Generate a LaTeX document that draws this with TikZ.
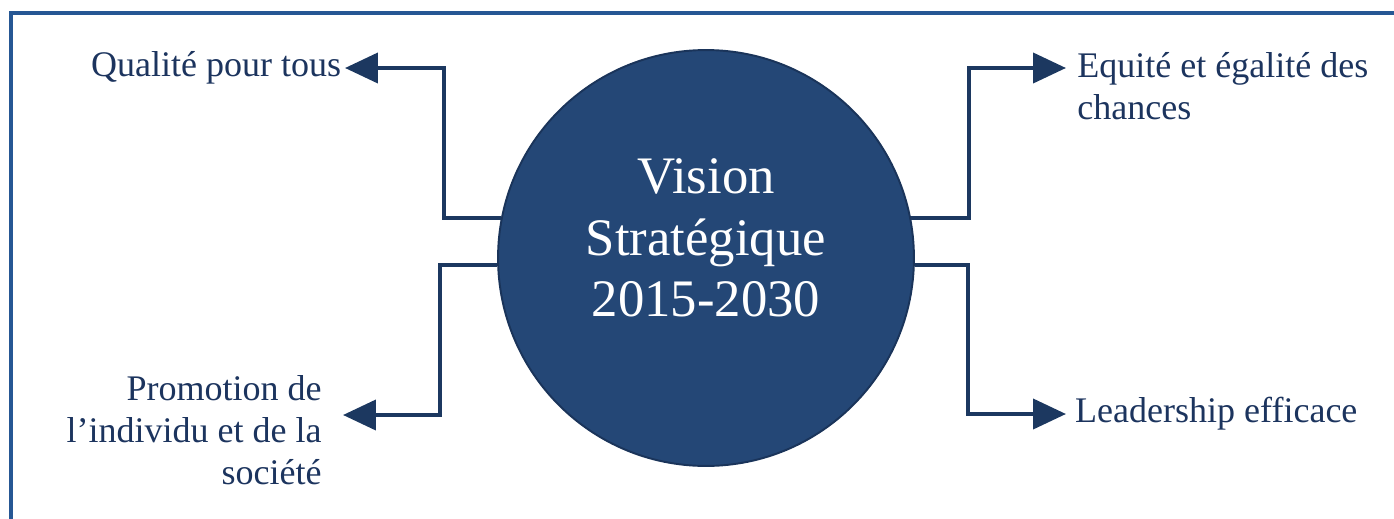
\documentclass[tikz,border=0pt]{standalone}
\usepackage{fontspec}
\setmainfont{Liberation Serif}
\usepackage{tikz}
\usetikzlibrary{arrows.meta, positioning}
\definecolor{navyLine}{RGB}{28,56,96}
\definecolor{navyText}{RGB}{28,52,94}
\definecolor{navyFill}{RGB}{36,71,118}
\definecolor{navyEdge}{RGB}{26,52,90}
\definecolor{frameBlue}{RGB}{38,87,148}
\tikzset{
    visionCircle/.style={circle, draw=navyEdge, line width=1.1pt, fill=navyFill, minimum size=8.32cm, inner sep=0pt},
    visionText/.style={text=white, align=center, inner sep=0pt, font=\fontsize{30}{35}\selectfont},
    objLabel/.style={text=navyText, inner sep=0pt, font=\fontsize{20.5}{24}\selectfont},
    arrow/.style={draw=navyLine, line width=2.3pt, -{Triangle[length=0.66cm, width=0.6cm]}},
    frame/.style={draw=frameBlue, line width=2.2pt}
}
\begin{document}
\begin{tikzpicture}[x=0.02cm, y=-0.02cm]
    \useasboundingbox (0,0) rectangle (1394,518);
    \draw [frame] (1420,13) -- (11,13) -- (11,540);

    \node (vision) [visionCircle] at (706,258) {};
    \node (visionLabel) [visionText] at (706,238) {Vision\\Strat\'egique\\2015-2030};

    \coordinate (tipQ) at (345,68);
    \coordinate (tipP) at (343,415);
    \coordinate (tipE) at (1066,68);
    \coordinate (tipL) at (1066,414);

    \node (qualite) [objLabel, left=2pt of tipQ] {Qualit\'e pour tous};
    \node (promotion) [objLabel, align=right, anchor=north east] at (322,375) {Promotion de\\l'individu et de la\\soci\'et\'e};
    \node (equite) [objLabel, align=left, anchor=north west] at (1077,52) {Equit\'e et \'egalit\'e des\\chances};
    \node (leadership) [objLabel, right=5pt of tipL] {Leadership efficace};

    \draw [arrow] (vision.169) -- ++(-57,0) |- (tipQ);
    \draw [arrow] (vision.182) -- ++(-57,0) |- (tipP);
    \draw [arrow] (vision.11) -- ++(58,0) |- (tipE);
    \draw [arrow] (vision.-2) -- ++(53,0) |- (tipL);

\end{tikzpicture}
\end{document}
